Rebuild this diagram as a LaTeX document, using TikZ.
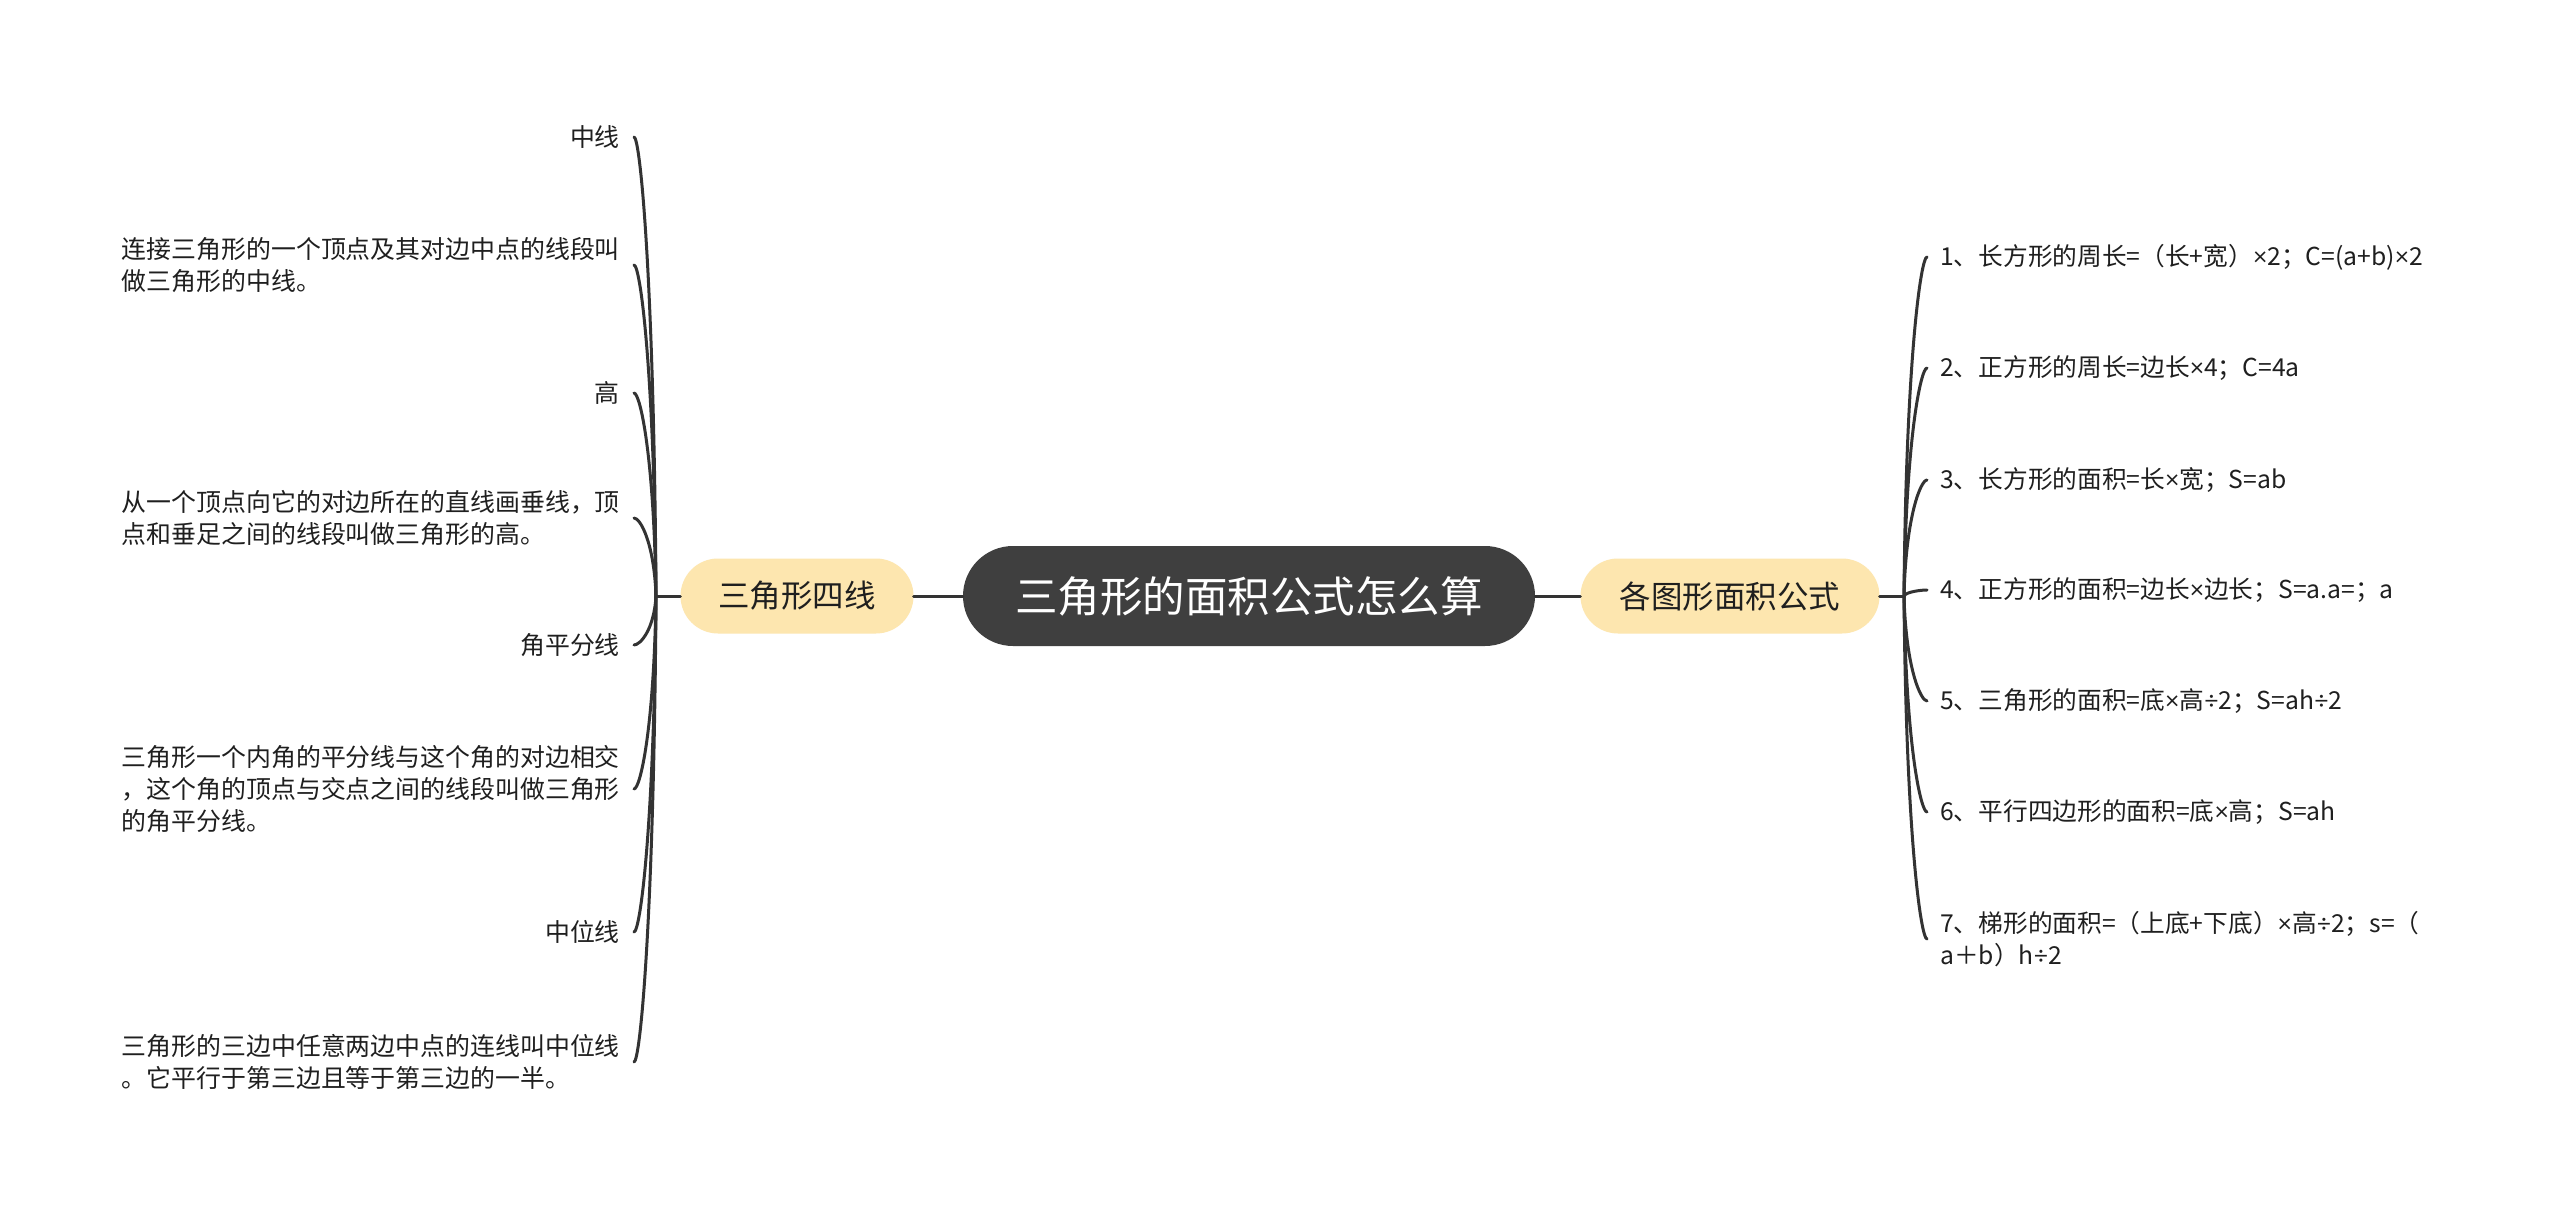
\documentclass[tikz,border=0pt]{standalone}
\usepackage{fontspec}
\setmainfont{Noto Sans CJK SC}
\newfontfamily\latinfont{Lato}
\usetikzlibrary{calc}
\definecolor{linec}{HTML}{333333}
\definecolor{centerfill}{HTML}{3F3F3F}
\definecolor{subfill}{HTML}{FDE6AF}
\definecolor{txt}{HTML}{1F1F1F}
\newcommand\tms{{\latinfont ×}}
\newcommand\dvs{{\latinfont ÷}}
\newcommand\branchL[1]{\draw[conn] let \p1=(#1.east), \p2=(lj) in (#1.east) .. controls (\x1+6pt,\y1) and (\x2-2pt,{\y1+0.3*(\y2-\y1)}) .. (lj);}
\newcommand\branchR[1]{\draw[conn] let \p1=(#1.west), \p2=(rj) in (#1.west) .. controls (\x1-6pt,\y1) and (\x2+2pt,{\y1+0.3*(\y2-\y1)}) .. (rj);}
\begin{document}
\begin{tikzpicture}[x=1pt,y=-1pt,
  conn/.style={line width=3pt,draw=linec,line cap=round},
  rootnode/.style={fill=centerfill,text=white,rounded corners=50pt,minimum width=572pt,minimum height=100pt,inner sep=0pt,font=\fontsize{42.5}{50}\selectfont},
  subnode/.style={fill=subfill,text=txt,rounded corners=37.5pt,minimum height=75pt,inner sep=0pt,font=\fontsize{31.5}{38}\selectfont},
  leafL/.style={anchor=east,align=left,inner xsep=14pt,inner ysep=4pt,text=txt,font=\fontsize{24.9}{32}\selectfont},
  leafR/.style={anchor=west,align=left,inner xsep=13pt,inner ysep=4pt,text=txt,font=\fontsize{24.7}{32}\selectfont},
]
\useasboundingbox (0,0) rectangle (2560,1209);
\fill[white] (0,0) rectangle (2560,1209);

\node[rootnode] (root) at (1249,596) {三角形的面积公式怎么算};
\node[subnode,minimum width=233pt] (sl) at (797,596) {三角形四线};
\node[subnode,minimum width=299pt] (sr) at (1730,596) {各图形面积公式};
\coordinate (lj) at (656,596);
\coordinate (rj) at (1904,596);

\node[leafL] (l1) at (634,137) {中线};
\node[leafL] (l2) at (634,265) {连接三角形的一个顶点及其对边中点的线段叫\\做三角形的中线。};
\node[leafL] (l3) at (634,393) {高};
\node[leafL] (l4) at (634,518) {从一个顶点向它的对边所在的直线画垂线，顶\\点和垂足之间的线段叫做三角形的高。};
\node[leafL] (l5) at (634,645) {角平分线};
\node[leafL] (l6) at (634,789) {三角形一个内角的平分线与这个角的对边相交\\，这个角的顶点与交点之间的线段叫做三角形\\的角平分线。};
\node[leafL] (l7) at (634,932) {中位线};
\node[leafL] (l8) at (634,1062) {三角形的三边中任意两边中点的连线叫中位线\\。它平行于第三边且等于第三边的一半。};

\node[leafR] (r1) at (1927,257) {1、长方形的周长=（长+宽）\tms{}2；C=(a+b)\tms{}2};
\node[leafR] (r2) at (1927,368) {2、正方形的周长=边长\tms{}4；C=4a};
\node[leafR] (r3) at (1927,480) {3、长方形的面积=长\tms{}宽；S=ab};
\node[leafR] (r4) at (1927,590) {4、正方形的面积=边长\tms{}边长；S=a.a=；a};
\node[leafR] (r5) at (1927,701) {5、三角形的面积=底\tms{}高\dvs{}2；S=ah\dvs{}2};
\node[leafR] (r6) at (1927,812) {6、平行四边形的面积=底\tms{}高；S=ah};
\node[leafR] (r7) at (1927,939) {7、梯形的面积=（上底+下底）\tms{}高\dvs{}2；s=（\\a＋b）h\dvs{}2};

\draw[conn] (root.west) -- (sl.east);
\draw[conn] (root.east) -- (sr.west);
\draw[conn] (sl.west) -- (lj);
\draw[conn] (sr.east) -- (rj);
\branchL{l1}\branchL{l2}\branchL{l3}\branchL{l4}
\branchL{l5}\branchL{l6}\branchL{l7}\branchL{l8}
\branchR{r1}\branchR{r2}\branchR{r3}\branchR{r4}
\branchR{r5}\branchR{r6}\branchR{r7}
\end{tikzpicture}
\end{document}
